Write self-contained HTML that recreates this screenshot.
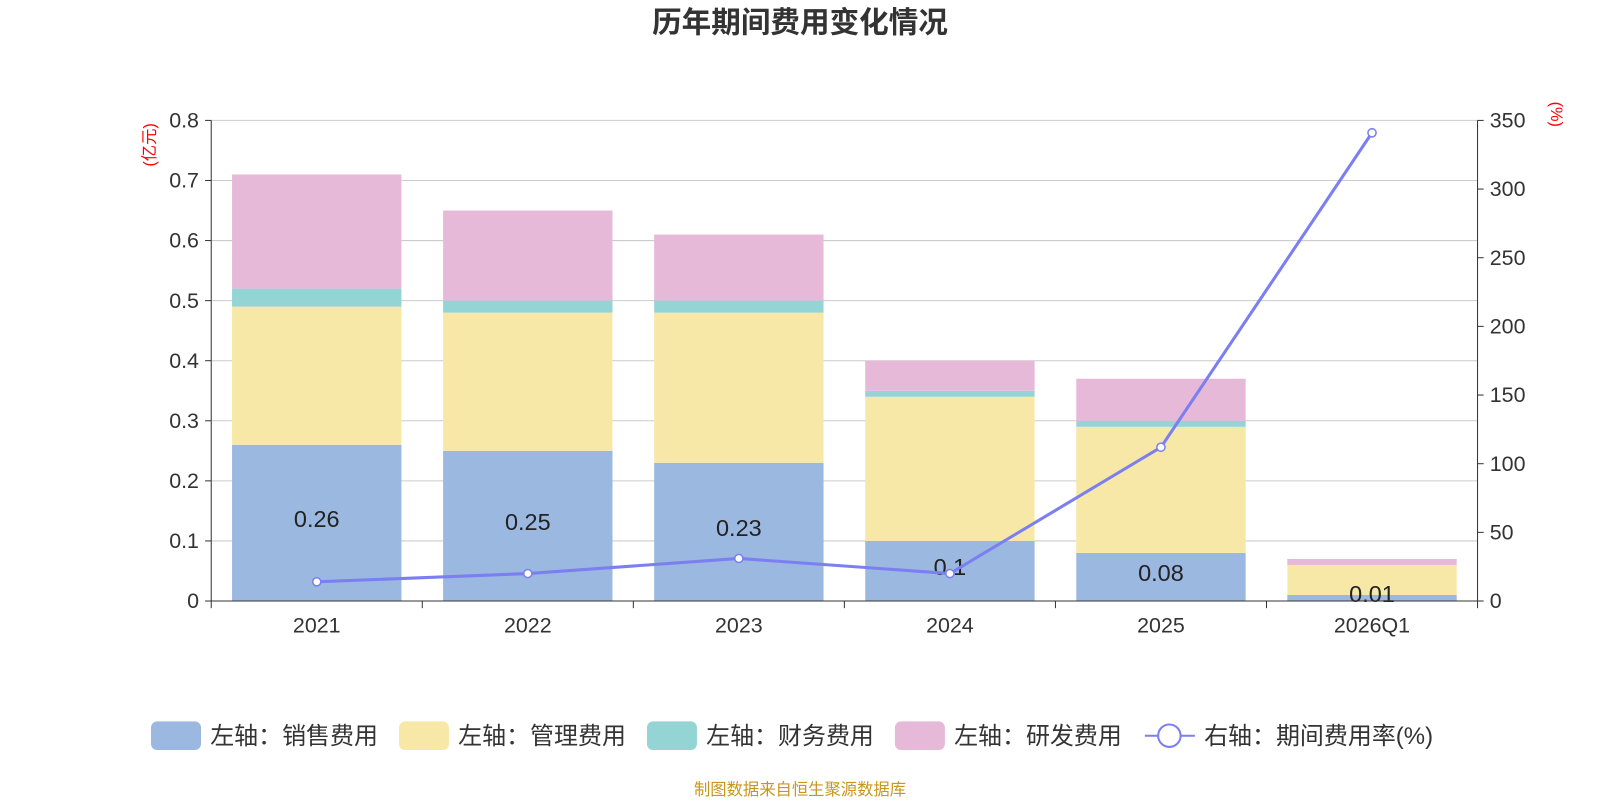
<!DOCTYPE html>
<html><head><meta charset="utf-8"><style>
body{margin:0;background:#fff;}
svg text{font-family:"Liberation Sans","Noto Sans CJK SC",sans-serif;}
</style></head><body>
<svg id="c" width="1600" height="800">
<g transform="scale(1.0204)">
<text x="784" y="32" text-anchor="middle" font-size="29" font-weight="bold" fill="#333">历年期间费用变化情况</text>
<text x="784" y="779" text-anchor="middle" font-size="16" fill="#c8961e">制图数据来自恒生聚源数据库</text>
<g id="grid"></g><g id="bars"></g><g id="axes"></g><g id="line"></g><g id="legend"></g>
</g>
</svg>
<script>
const categories=["2021","2022","2023","2024","2025","2026Q1"];
const sales=[0.26,0.25,0.23,0.10,0.08,0.01];
const admin=[0.23,0.23,0.25,0.24,0.21,0.05];
const finance=[0.03,0.02,0.02,0.01,0.01,0.00];
const rnd=[0.19,0.15,0.11,0.05,0.07,0.01];
const rate=[14,20,31,20,112,341];
const leftTicks=[0,0.1,0.2,0.3,0.4,0.5,0.6,0.7,0.8];
const rightTicks=[0,50,100,150,200,250,300,350];
const NS="http://www.w3.org/2000/svg";
const X0=207,X1=1448,Y0=589,Y1=118;
const band=(X1-X0)/categories.length;
const yL=v=>Y0-(v/0.8)*(Y0-Y1);
const yR=v=>Y0-(v/350)*(Y0-Y1);
const xC=i=>X0+band*(i+0.5);
function mk(p,tag,a){const e=document.createElementNS(NS,tag);for(const k in a)e.setAttribute(k,a[k]);document.getElementById(p).appendChild(e);return e;}
leftTicks.forEach(t=>{
 const l=mk('grid','line',{x1:X0,x2:X1,y1:yL(t),y2:yL(t),stroke:'#ccc','stroke-width':1});
 
 
 mk('axes','line',{x1:X0-6,x2:X0,y1:yL(t),y2:yL(t),stroke:'#333'});
 const tx=mk('axes','text',{x:X0-12,y:yL(t)+7,'text-anchor':'end','font-size':21,fill:'#333'});
 tx.textContent=t===0?'0':t.toFixed(1);
 
 
});
rightTicks.forEach(t=>{
 mk('axes','line',{x1:X1,x2:X1+6,y1:yR(t),y2:yR(t),stroke:'#333'});
 const tx=mk('axes','text',{x:X1+12,y:yR(t)+7,'font-size':21,fill:'#333'});
 tx.textContent=t;
 
 
});
mk('axes','line',{x1:X0,x2:X0,y1:Y1,y2:Y0,stroke:'#333'});
mk('axes','line',{x1:X1,x2:X1,y1:Y1,y2:Y0,stroke:'#333'});
mk('axes','line',{x1:X0,x2:X1,y1:Y0,y2:Y0,stroke:'#333'});
let u=mk('axes','text',{x:0,y:0,'font-size':16,fill:'red',transform:'translate(152,142) rotate(-90)','text-anchor':'middle'});u.textContent='(亿元)';

u=mk('axes','text',{x:0,y:0,'font-size':16,fill:'red',transform:'translate(1520,112) rotate(90)','text-anchor':'middle'});u.textContent='(%)';

for(let i=0;i<=categories.length;i++)mk('axes','line',{x1:X0+band*i,x2:X0+band*i,y1:Y0,y2:Y0+7,stroke:'#333'});
const series=[[sales,'#9bb8e1','sales'],[admin,'#f8e8a8','admin'],[finance,'#95d4d4','finance'],[rnd,'#e7b9d9','rnd']];
categories.forEach((c,i)=>{
 const t=mk('axes','text',{x:xC(i),y:Y0+31,'text-anchor':'middle','font-size':21,fill:'#333'});t.textContent=c;
 
 let acc=0;
 series.forEach(([arr,col,n])=>{
  const r=mk('bars','rect',{x:xC(i)-83,width:166,y:yL(acc+arr[i]),height:yL(acc)-yL(acc+arr[i]),fill:col});
  
  
  acc+=arr[i];
 });
 const lb=mk('bars','text',{x:xC(i),y:(yL(0)+yL(sales[i]))/2+4,'text-anchor':'middle','font-size':23,fill:'#222'});
 lb.textContent=String(sales[i]);
 
});
const pl=mk('line','polyline',{points:rate.map((v,i)=>xC(i)+','+yR(v)).join(' '),fill:'none',stroke:'#7b7ff0','stroke-width':3});

rate.forEach((v,i)=>{const p=mk('line','circle',{cx:xC(i),cy:yR(v),r:4,fill:'#fff',stroke:'#7b7ff0','stroke-width':1.5});
 });
const leg=[['左轴：销售费用','#9bb8e1',148],['左轴：管理费用','#f8e8a8',391],['左轴：财务费用','#95d4d4',634],['左轴：研发费用','#e7b9d9',877]];
leg.forEach(([t,c,x])=>{
 const g=mk('legend','g',{});
 const r=document.createElementNS(NS,'rect');[['x',x],['y',707],['width',49],['height',28],['rx',6],['fill',c]].forEach(a=>r.setAttribute(a[0],a[1]));g.appendChild(r);
 const tx=document.createElementNS(NS,'text');[['x',x+58],['y',729],['font-size',23.5],['fill','#333']].forEach(a=>tx.setAttribute(a[0],a[1]));tx.textContent=t;g.appendChild(tx);
});
const g=mk('legend','g',{});
g.innerHTML='<line x1="1122" x2="1171" y1="721" y2="721" stroke="#7b7ff0" stroke-width="2"/><circle cx="1146" cy="721" r="11" fill="#fff" stroke="#7b7ff0" stroke-width="2"/><text x="1180" y="729" font-size="23.5" fill="#333">右轴：期间费用率(%)</text>';
</script>
</body></html>
